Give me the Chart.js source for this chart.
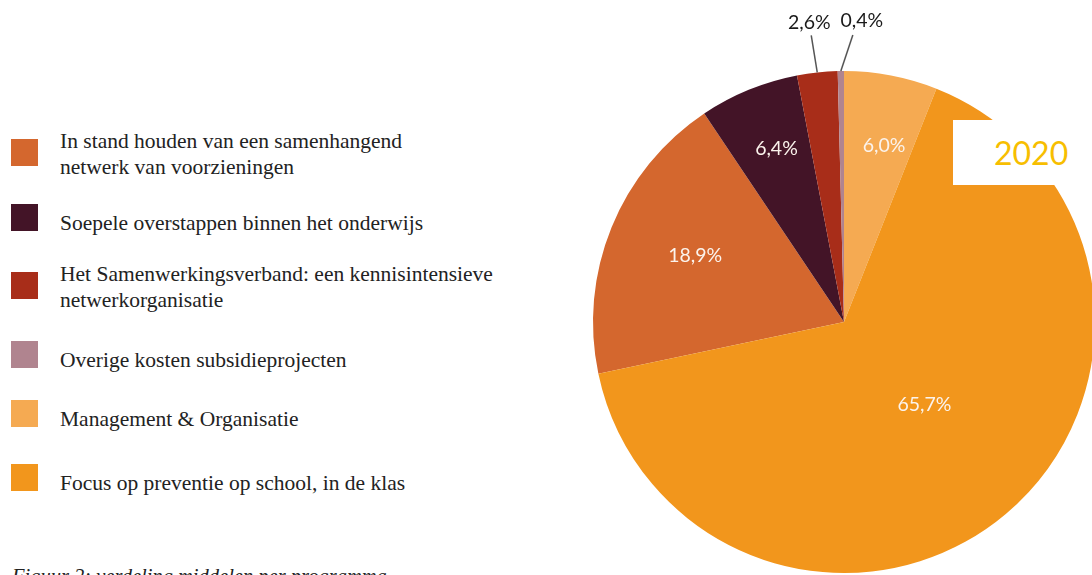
<!DOCTYPE html>
<html>
<head>
<meta charset="utf-8">
<script src="https://cdn.jsdelivr.net/npm/chart.js@4.4.1/dist/chart.umd.min.js"></script>
<style>
  html, body { margin: 0; padding: 0; background: #fff; }
  body { width: 1092px; height: 575px; overflow: hidden; position: relative; }
  #pie { position: absolute; left: 544px; top: 0; }
  #legend { position: absolute; left: 11px; top: 128px; font-family: "Liberation Serif", serif; font-size: 21.5px; color: #222; }
  .item { display: flex; align-items: center; }
  .sw { width: 27px; height: 27px; flex: none; margin-right: 22px; position: relative; top: -5px; }
  .item.two .sw { top: -2px; }
  .txt { line-height: 26px; white-space: pre-line; }
  .item:nth-child(2) { margin-top: 29px; }
  .item:nth-child(3) { margin-top: 25px; }
  .item:nth-child(4) { margin-top: 33px; }
  .item:nth-child(5) { margin-top: 32px; }
  .item:nth-child(6) { margin-top: 37px; }
  #year { position: absolute; left: 953px; top: 120px; width: 139px; height: 65px; background: #fff;
          font-family: Lato, sans-serif; font-size: 32px; color: #F7BE00; line-height: 65px; padding-left: 41px; box-sizing: border-box; }
  #caption { position: absolute; left: 12px; top: 563px; font-family: "Liberation Serif", serif; font-style: italic;
             font-size: 20.5px; line-height: 26px; color: #222; white-space: nowrap; }
</style>
</head>
<body>
<div id="legend"></div>
<canvas id="pie" width="600" height="644"></canvas>
<div id="year">2020</div>
<div id="caption">Figuur 2: verdeling middelen per programma</div>
<script>
// legend order, also the clockwise order of the slices
const categories = [
  "In stand houden van een samenhangend\nnetwerk van voorzieningen",
  "Soepele overstappen binnen het onderwijs",
  "Het Samenwerkingsverband: een kennisintensieve\nnetwerkorganisatie",
  "Overige kosten subsidieprojecten",
  "Management & Organisatie",
  "Focus op preventie op school, in de klas"
];
const values = [18.9, 6.4, 2.6, 0.4, 6.0, 65.7];
const colors = ["#D4672E", "#431427", "#A82D19", "#B0848F", "#F5AA52", "#F2961C"];

// legend
const legendEl = document.getElementById("legend");
categories.forEach((cat, i) => {
  const item = document.createElement("div");
  item.className = "item" + (cat.includes("\n") ? " two" : "");
  const sw = document.createElement("div");
  sw.className = "sw";
  sw.style.background = colors[i];
  const txt = document.createElement("div");
  txt.className = "txt";
  txt.textContent = cat;
  item.appendChild(sw);
  item.appendChild(txt);
  legendEl.appendChild(item);
});

// the "Overige" slice ends right at the top
const total = values.reduce((a, b) => a + b, 0);
const startRotation = -360 * values.slice(0, 4).reduce((a, b) => a + b, 0) / total;

const pctLabels = {
  id: "pctLabels",
  afterDatasetsDraw(chart, args, opts) {
    const ctx = chart.ctx;
    const meta = chart.getDatasetMeta(0);
    ctx.save();
    ctx.font = "19.5px Lato";
    ctx.textAlign = "center";
    ctx.textBaseline = "middle";
    meta.data.forEach((arc, i) => {
      const txt = values[i].toFixed(1).replace(".", ",") + "%";
      const mid = (arc.startAngle + arc.endAngle) / 2;
      const c = opts.callouts[i];
      if (c) {
        const sx = arc.x + Math.cos(mid) * arc.outerRadius;
        const sy = arc.y + Math.sin(mid) * arc.outerRadius;
        const ex = sx + c.dx, ey = sy + c.dy;
        ctx.strokeStyle = "#555";
        ctx.lineWidth = 1.5;
        ctx.beginPath();
        ctx.moveTo(sx, sy);
        ctx.lineTo(ex, ey);
        ctx.stroke();
        ctx.fillStyle = "#1a1a1a";
        ctx.fillText(txt, ex + c.lx, ey + c.ly);
      } else {
        const p = opts.inside[i];
        const a = mid + p[1] * Math.PI / 180;
        ctx.fillStyle = "#FBF3EC";
        ctx.fillText(txt, arc.x + Math.cos(a) * arc.outerRadius * p[0], arc.y + Math.sin(a) * arc.outerRadius * p[0]);
      }
    });
    ctx.restore();
  }
};

new Chart(document.getElementById("pie"), {
  type: "pie",
  data: {
    labels: categories,
    datasets: [{ data: values, backgroundColor: colors, borderWidth: 0 }]
  },
  options: {
    responsive: false,
    animation: false,
    rotation: startRotation,
    layout: { padding: { left: 49, right: 49, top: 71, bottom: 71 } },
    plugins: {
      legend: { display: false },
      tooltip: { enabled: false },
      pctLabels: {
        inside: { 0: [0.65, 2], 1: [0.74, 1], 4: [0.72, 2], 5: [0.46, -4] },
        callouts: { 2: { dx: -6, dy: -37, lx: -2, ly: -13 }, 3: { dx: 12, dy: -36, lx: 9, ly: -14 } }
      }
    }
  },
  plugins: [pctLabels]
});
</script>
</body>
</html>
